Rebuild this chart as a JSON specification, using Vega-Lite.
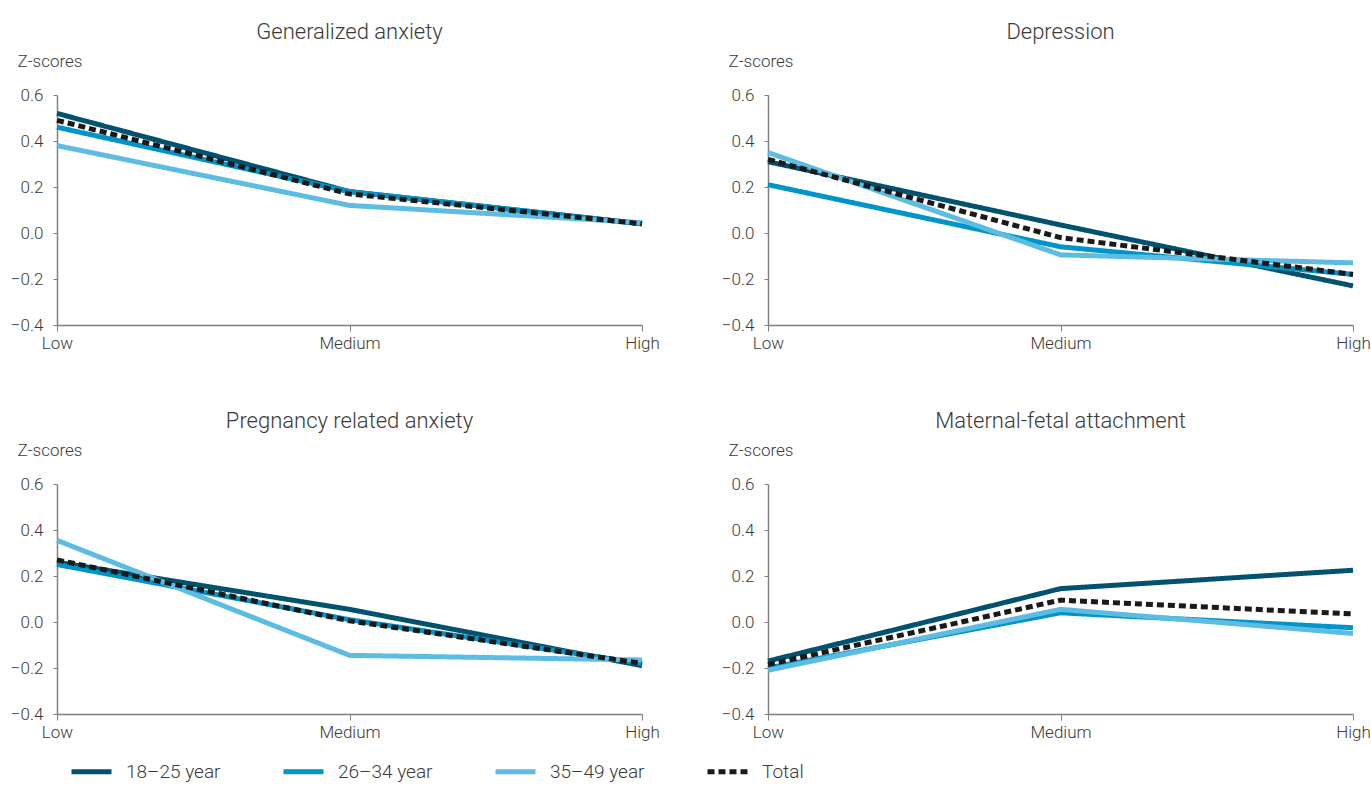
{
  "$schema": "https://vega.github.io/schema/vega-lite/v6.json",
  "padding": {"left": 10, "top": 21, "right": 5, "bottom": 0},
  "background": "white",
  "config": {
    "font": "Roboto, sans-serif",
    "view": {"stroke": null},
    "axis": {"labelFont": "Roboto, sans-serif", "titleFont": "Roboto, sans-serif", "labelColor": "#3a3a3a", "titleColor": "#3a3a3a", "domainColor": "#808080", "tickColor": "#808080", "grid": false, "labelFontWeight": 300, "titleFontWeight": 300},
    "legend": {"labelFont": "Roboto, sans-serif", "labelColor": "#3a3a3a", "labelFontWeight": 300, "orient": "bottom", "direction": "horizontal", "offset": -3, "padding": 12, "symbolType": "stroke", "symbolSize": 1600, "labelFontSize": 19, "labelOffset": 12, "columnPadding": 52, "title": null}
  },
  "data": {"values": [
    {"panel": "Generalized anxiety", "level": "Low", "series": "18–25 year", "z": 0.52},
    {"panel": "Generalized anxiety", "level": "Medium", "series": "18–25 year", "z": 0.18},
    {"panel": "Generalized anxiety", "level": "High", "series": "18–25 year", "z": 0.04},
    {"panel": "Generalized anxiety", "level": "Low", "series": "26–34 year", "z": 0.46},
    {"panel": "Generalized anxiety", "level": "Medium", "series": "26–34 year", "z": 0.18},
    {"panel": "Generalized anxiety", "level": "High", "series": "26–34 year", "z": 0.04},
    {"panel": "Generalized anxiety", "level": "Low", "series": "35–49 year", "z": 0.38},
    {"panel": "Generalized anxiety", "level": "Medium", "series": "35–49 year", "z": 0.12},
    {"panel": "Generalized anxiety", "level": "High", "series": "35–49 year", "z": 0.045},
    {"panel": "Generalized anxiety", "level": "Low", "series": "Total", "z": 0.49},
    {"panel": "Generalized anxiety", "level": "Medium", "series": "Total", "z": 0.17},
    {"panel": "Generalized anxiety", "level": "High", "series": "Total", "z": 0.04},

    {"panel": "Depression", "level": "Low", "series": "18–25 year", "z": 0.31},
    {"panel": "Depression", "level": "Medium", "series": "18–25 year", "z": 0.035},
    {"panel": "Depression", "level": "High", "series": "18–25 year", "z": -0.23},
    {"panel": "Depression", "level": "Low", "series": "26–34 year", "z": 0.21},
    {"panel": "Depression", "level": "Medium", "series": "26–34 year", "z": -0.06},
    {"panel": "Depression", "level": "High", "series": "26–34 year", "z": -0.18},
    {"panel": "Depression", "level": "Low", "series": "35–49 year", "z": 0.35},
    {"panel": "Depression", "level": "Medium", "series": "35–49 year", "z": -0.095},
    {"panel": "Depression", "level": "High", "series": "35–49 year", "z": -0.13},
    {"panel": "Depression", "level": "Low", "series": "Total", "z": 0.32},
    {"panel": "Depression", "level": "Medium", "series": "Total", "z": -0.02},
    {"panel": "Depression", "level": "High", "series": "Total", "z": -0.18},

    {"panel": "Pregnancy related anxiety", "level": "Low", "series": "18–25 year", "z": 0.26},
    {"panel": "Pregnancy related anxiety", "level": "Medium", "series": "18–25 year", "z": 0.055},
    {"panel": "Pregnancy related anxiety", "level": "High", "series": "18–25 year", "z": -0.19},
    {"panel": "Pregnancy related anxiety", "level": "Low", "series": "26–34 year", "z": 0.25},
    {"panel": "Pregnancy related anxiety", "level": "Medium", "series": "26–34 year", "z": 0.01},
    {"panel": "Pregnancy related anxiety", "level": "High", "series": "26–34 year", "z": -0.18},
    {"panel": "Pregnancy related anxiety", "level": "Low", "series": "35–49 year", "z": 0.355},
    {"panel": "Pregnancy related anxiety", "level": "Medium", "series": "35–49 year", "z": -0.145},
    {"panel": "Pregnancy related anxiety", "level": "High", "series": "35–49 year", "z": -0.165},
    {"panel": "Pregnancy related anxiety", "level": "Low", "series": "Total", "z": 0.27},
    {"panel": "Pregnancy related anxiety", "level": "Medium", "series": "Total", "z": 0.005},
    {"panel": "Pregnancy related anxiety", "level": "High", "series": "Total", "z": -0.18},

    {"panel": "Maternal-fetal attachment", "level": "Low", "series": "18–25 year", "z": -0.17},
    {"panel": "Maternal-fetal attachment", "level": "Medium", "series": "18–25 year", "z": 0.145},
    {"panel": "Maternal-fetal attachment", "level": "High", "series": "18–25 year", "z": 0.225},
    {"panel": "Maternal-fetal attachment", "level": "Low", "series": "26–34 year", "z": -0.2},
    {"panel": "Maternal-fetal attachment", "level": "Medium", "series": "26–34 year", "z": 0.04},
    {"panel": "Maternal-fetal attachment", "level": "High", "series": "26–34 year", "z": -0.025},
    {"panel": "Maternal-fetal attachment", "level": "Low", "series": "35–49 year", "z": -0.21},
    {"panel": "Maternal-fetal attachment", "level": "Medium", "series": "35–49 year", "z": 0.055},
    {"panel": "Maternal-fetal attachment", "level": "High", "series": "35–49 year", "z": -0.05},
    {"panel": "Maternal-fetal attachment", "level": "Low", "series": "Total", "z": -0.185},
    {"panel": "Maternal-fetal attachment", "level": "Medium", "series": "Total", "z": 0.095},
    {"panel": "Maternal-fetal attachment", "level": "High", "series": "Total", "z": 0.035}
  ]},
  "facet": {
    "field": "panel", "type": "nominal",
    "sort": ["Generalized anxiety", "Depression", "Pregnancy related anxiety", "Maternal-fetal attachment"],
    "header": {"title": null, "labelFontSize": 22, "labelColor": "#3a3a3a", "labelFont": "Roboto, sans-serif", "labelFontWeight": 300, "labelPadding": 8}
  },
  "columns": 2,
  "spacing": {"column": 61, "row": 59},
  "resolve": {"axis": {"x": "independent", "y": "independent"}},
  "spec": {
    "width": 585,
    "height": 230,
    "mark": {"type": "line"},
    "encoding": {
      "x": {"field": "level", "type": "ordinal", "sort": ["Low", "Medium", "High"],
        "scale": {"type": "point", "padding": 0},
        "axis": {"title": null, "labelAngle": 0, "labelFontSize": 17, "labelPadding": 4, "tickSize": 6, "domainWidth": 1.5}},
      "y": {"field": "z", "type": "quantitative",
        "scale": {"domain": [-0.4, 0.6], "nice": false, "zero": false},
        "axis": {"title": "Z-scores", "values": [-0.4, -0.2, 0, 0.2, 0.4, 0.6], "format": ".1f", "labelFontSize": 17, "labelPadding": 10, "tickSize": 4, "domainWidth": 1.5,
          "titleAngle": 0, "titleAlign": "left", "titleBaseline": "middle", "titleX": -40, "titleY": -34, "titleFontSize": 17}},
      "color": {"field": "series", "type": "nominal",
        "scale": {"domain": ["18–25 year", "26–34 year", "35–49 year", "Total"], "range": ["#00526f", "#0094c9", "#5cbce2", "#1a1a1a"]}},
      "strokeDash": {"field": "series", "type": "nominal",
        "scale": {"domain": ["18–25 year", "26–34 year", "35–49 year", "Total"], "range": [[1, 0], [1, 0], [1, 0], [7, 4]]}},
      "strokeWidth": {"field": "series", "type": "nominal",
        "scale": {"domain": ["18–25 year", "26–34 year", "35–49 year", "Total"], "range": [5, 5, 5, 3.5]}},
      "order": {"field": "series"}
    }
  }
}
